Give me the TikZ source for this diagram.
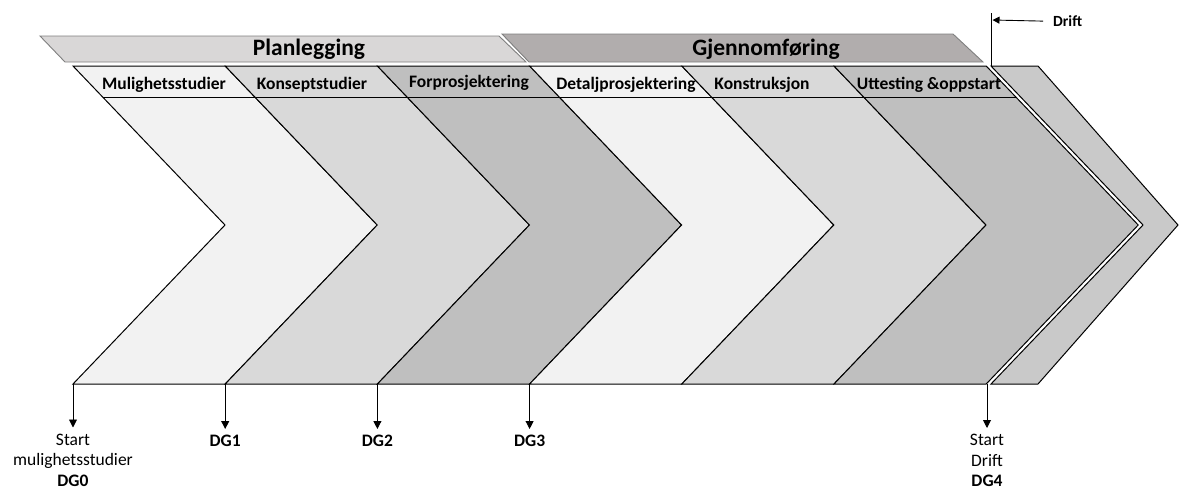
\documentclass[tikz,border=0pt]{standalone}
\usepackage{fontspec}
\setmainfont{Carlito}
\usetikzlibrary{arrows.meta}
\definecolor{chevA}{HTML}{F2F2F2}
\definecolor{chevB}{HTML}{D9D9D9}
\definecolor{chevC}{HTML}{BFBFBF}
\definecolor{chevDrift}{HTML}{C9C9C9}
\definecolor{planfill}{HTML}{D9D7D7}
\definecolor{gjenfill}{HTML}{B1ADAD}
\definecolor{bannerline}{HTML}{7F7F7F}

\tikzset{
  chevron/.style={draw=black, line width=1pt},
  banner/.style={draw=bannerline, line width=0.9pt},
  phase/.style={anchor=base, inner sep=0pt, font=\bfseries\fontsize{17.5}{20}\selectfont},
  bannertext/.style={anchor=base, inner sep=0pt, font=\bfseries\fontsize{23.5}{28}\selectfont},
  gatelabel/.style={anchor=north, inner sep=0pt, align=center, font=\fontsize{17.5}{20.5}\selectfont},
  gatearrow/.style={-{Triangle[length=8pt,width=8pt]}, line width=0.9pt, shorten >=6pt},
}

\begin{document}
\begin{tikzpicture}[x=1pt, y=-1pt]
  % Canvas
  \useasboundingbox (0,0) rectangle (1179,490);

  % Banners
  \draw[banner, fill=gjenfill] (502,34) -- (953,34) -- (983,62) -- (529,62) -- cycle;
  \draw[banner, fill=planfill] (40,36) -- (499,36) -- (526,62) -- (65,62) -- cycle;
  \node[bannertext] (plan) at (309,55.5) {Planlegging};
  \node[bannertext] (gjen) at (766,55.5) {Gjennomføring};

  % Drift chevron
  \draw[chevron, fill=chevDrift] (991,66) -- (1038,66) -- (1178,225) -- (1038,384)
    -- (991,384) -- (1143,225) -- cycle;

  % Phase chevrons
  \foreach \i/\col in {0/chevA,1/chevB,2/chevC,3/chevA,4/chevB,5/chevC}{
    \pgfmathsetmacro{\xl}{73+152.2*\i}
    \draw[chevron, fill=\col] (\xl,66) -- ++(152.2,0) -- ++(152,159) -- ++(-152,159)
      -- ++(-152.2,0) -- ++(152,-159) -- cycle;
  }
  \draw[line width=1pt] (102.6,97) -- (1015.6,97);

  % Phase labels
  \node[phase] (p1) at (164,89.5) {Mulighetsstudier};
  \node[phase] (p2) at (312,89.5) {Konseptstudier};
  \node[phase] (p3) at (469,87.5) {Forprosjektering};
  \node[phase] (p4) at (626,89.5) {Detaljprosjektering};
  \node[phase] (p5) at (762,89.5) {Konstruksjon};
  \node[phase] (p6) at (929,89.5) {Uttesting \&oppstart};

  % Drift marker
  \coordinate (dtop) at (991.7,13);
  \coordinate (dbot) at (991.7,66);
  \coordinate (dmark) at (992.5,20);
  \draw[line width=1pt] (dtop) -- (dbot);
  \node[anchor=base west, inner sep=0pt, font=\bfseries\fontsize{15.5}{18}\selectfont]
    (driftlbl) at (1053,26.5) {Drift};
  \draw[-{Triangle[length=7pt,width=7pt]}, line width=0.9pt]
    ([xshift=-10pt]driftlbl.west) -- (dmark);

  % Decision gates
  \coordinate (g0) at (73,384);
  \coordinate (g1) at (225.2,384);
  \coordinate (g2) at (377.4,384);
  \coordinate (g3) at (529.6,384);
  \coordinate (g4) at (987,384);
  \node[gatelabel] (dg0) at (73,433.5) {Start\\mulighetsstudier\\\textbf{DG0}};
  \node[gatelabel, font=\bfseries\fontsize{17.5}{21}\selectfont] (dg1) at (225.2,435) {DG1};
  \node[gatelabel, font=\bfseries\fontsize{17.5}{21}\selectfont] (dg2) at (377.4,435) {DG2};
  \node[gatelabel, font=\bfseries\fontsize{17.5}{21}\selectfont] (dg3) at (529.6,435) {DG3};
  \node[gatelabel] (dg4) at (987,434) {Start\\Drift\\\textbf{DG4}};
  \draw[gatearrow] (g0) -- (dg0.north);
  \draw[gatearrow] (g1) -- (dg1.north);
  \draw[gatearrow] (g2) -- (dg2.north);
  \draw[gatearrow] (g3) -- (dg3.north);
  \draw[gatearrow] (g4) -- (dg4.north);
\end{tikzpicture}
\end{document}
